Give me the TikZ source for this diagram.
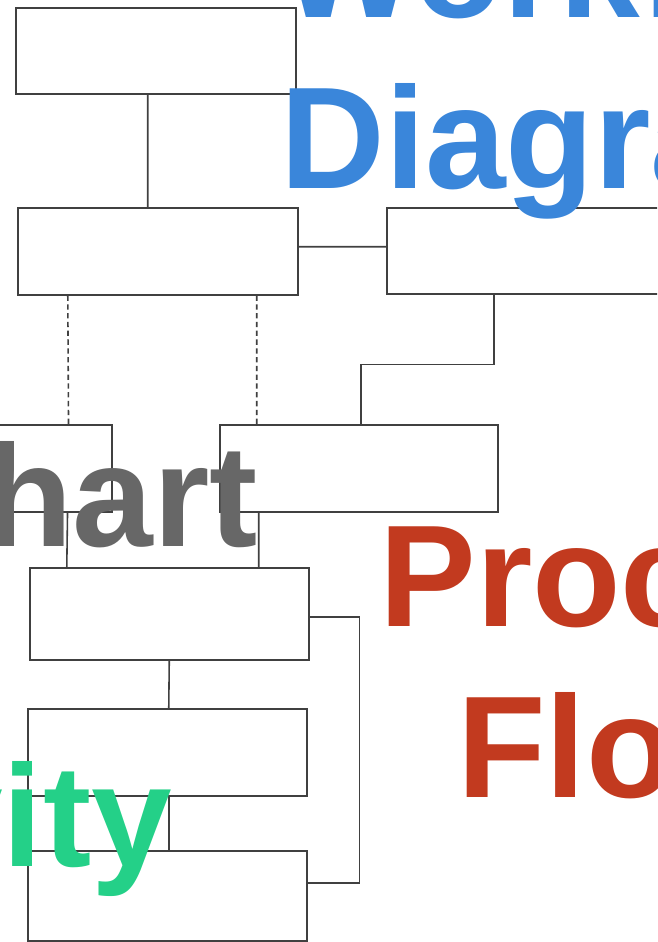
\documentclass[tikz,border=0pt]{standalone}
\usepackage{fontspec}
\setmainfont{Liberation Sans}
\usepackage{tikz}

\definecolor{wfblue}{HTML}{3A86DA}
\definecolor{chgray}{HTML}{676767}
\definecolor{pfred}{HTML}{C23A1F}
\definecolor{acgreen}{HTML}{24D088}

\tikzset{
  blank/.style={draw=black!75, line width=0.9pt, inner sep=0pt, anchor=north west},
  link/.style={draw=black!75, line width=0.9pt},
  word/.style={font=\fontsize{82.5}{90}\selectfont\bfseries, inner sep=0pt, anchor=base west}
}

\begin{document}
\begin{tikzpicture}[x=0.02cm, y=-0.02cm]
    \useasboundingbox (0,0) rectangle (657,942);
    \clip (0,0) rectangle (657,942);

    % boxes
    \node[blank, minimum width=5.6cm, minimum height=1.72cm] (start) at (15,7) {};
    \node[blank, minimum width=5.6cm, minimum height=1.74cm] (review) at (17,207) {};
    \node[blank, minimum width=5.88cm, minimum height=1.72cm] (side) at (386,207) {};
    \node[blank, minimum width=5.62cm, minimum height=1.74cm] (optl) at (-170,424) {};
    \node[blank, minimum width=5.56cm, minimum height=1.74cm] (optr) at (219,424) {};
    \node[blank, minimum width=5.58cm, minimum height=1.84cm] (join) at (29,567) {};
    \node[blank, minimum width=5.58cm, minimum height=1.74cm] (act1) at (27,708) {};
    \node[blank, minimum width=5.58cm, minimum height=1.8cm] (act2) at (27,850) {};

    % connectors
    \draw[link] ([xshift=-0.16cm]start.south) -- ([xshift=-0.2cm]review.north);
    \draw[link] ([yshift=0.09cm]review.east) -- ([yshift=0.08cm]side.west);
    \draw[link, densely dashed] ([xshift=-1.8cm]review.south) -- ([xshift=-0.88cm]optl.north east);
    \draw[link, densely dashed] ([xshift=1.98cm]review.south) -- ([xshift=-2.04cm]optr.north);
    \draw[link] ([xshift=2.16cm]side.south west) -- ++(0,70) -| ([xshift=0.04cm]optr.north);
    \draw[link] ([xshift=-0.9cm]optl.south east) -- ([xshift=-2.05cm]join.north);
    \draw[link] ([xshift=-2cm]optr.south) -- ([xshift=1.79cm]join.north);
    \draw[link] (join.south) -- ([xshift=0.03cm]act1.north);
    \draw[link] ([xshift=0.03cm]act1.south) -- ([xshift=0.03cm]act2.north);
    \draw[link] ([yshift=-0.06cm]join.east) -- ++(50,0) |- ([yshift=0.26cm]act2.east);

    % Workflow Diagram
    \node[word, text=wfblue] (workflow) at (280,18) {Workflow};
    \node[word, text=wfblue] (diagram) at (280,189) {Diagram};

    % Chart
    \node[word, text=chgray] (chart) at (-121,546) {Chart};

    % Process Flow
    \node[word, text=pfred] (process) at (379,626) {Process};
    \node[word, text=pfred] (flow) at (457,797) {Flow};

    % Activity
    \node[word, text=acgreen] (activity) at (-352,866) {Activity};

\end{tikzpicture}
\end{document}
